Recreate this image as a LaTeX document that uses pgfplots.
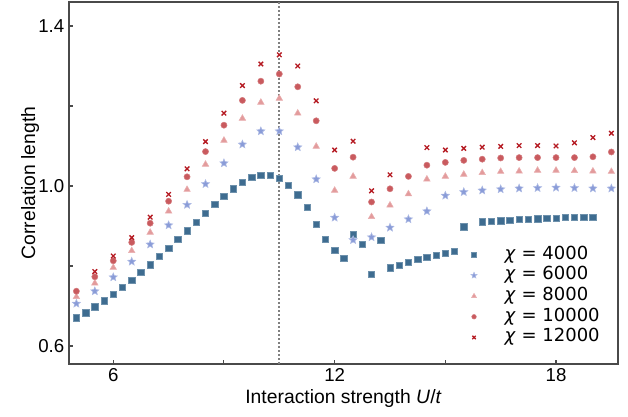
\documentclass[border=0pt]{standalone}
\usepackage{pgfplots}
\pgfplotsset{compat=1.18}
\usepackage{pgfplotstable}
\usepackage{fontspec}
\setmainfont{Liberation Sans}
\newfontfamily\djv{DejaVu Sans}

\definecolor{cA}{HTML}{3E6C90}
\definecolor{cB}{HTML}{8A9CD8}
\definecolor{cC}{HTML}{E39B9C}
\definecolor{cD}{HTML}{C95A5E}
\definecolor{cE}{HTML}{B51A22}
\definecolor{spine}{HTML}{4A4A4A}

% filled five-point star
\pgfdeclareplotmark{fstar}{%
  \pgfpathmoveto{\pgfpointpolar{90}{\pgfplotmarksize}}%
  \pgfpathlineto{\pgfpointpolar{126}{0.45\pgfplotmarksize}}%
  \pgfpathlineto{\pgfpointpolar{162}{\pgfplotmarksize}}%
  \pgfpathlineto{\pgfpointpolar{198}{0.45\pgfplotmarksize}}%
  \pgfpathlineto{\pgfpointpolar{234}{\pgfplotmarksize}}%
  \pgfpathlineto{\pgfpointpolar{270}{0.45\pgfplotmarksize}}%
  \pgfpathlineto{\pgfpointpolar{306}{\pgfplotmarksize}}%
  \pgfpathlineto{\pgfpointpolar{342}{0.45\pgfplotmarksize}}%
  \pgfpathlineto{\pgfpointpolar{18}{\pgfplotmarksize}}%
  \pgfpathlineto{\pgfpointpolar{54}{0.45\pgfplotmarksize}}%
  \pgfpathclose
  \pgfusepathqfillstroke
}

\pgfplotstableread{
U xi
5.00 0.671
5.25 0.683
5.50 0.698
5.75 0.713
6.00 0.730
6.25 0.747
6.50 0.765
6.75 0.784
7.00 0.803
7.25 0.824
7.50 0.845
7.75 0.867
8.00 0.888
8.25 0.910
8.50 0.932
8.75 0.954
9.00 0.975
9.25 0.993
9.50 1.009
9.75 1.022
10.00 1.027
10.25 1.027
10.50 1.020
10.75 1.002
11.00 0.978
11.25 0.947
11.50 0.905
11.75 0.867
12.00 0.840
12.25 0.819
12.50 0.879
12.75 0.854
13.00 0.779
13.25 0.865
13.50 0.796
13.75 0.8025
14.00 0.810
14.25 0.817
14.50 0.8225
14.75 0.8275
15.00 0.8325
15.25 0.8375
15.50 0.898
16.00 0.911
16.25 0.9125
16.50 0.913
16.75 0.915
17.00 0.917
17.25 0.9175
17.50 0.918
17.75 0.919
18.00 0.920
18.25 0.922
18.50 0.922
18.75 0.922
19.00 0.922
}\chiA

\pgfplotstableread{
U xi
5.0 0.706
5.5 0.737
6.0 0.772
6.5 0.811
7.0 0.854
7.5 0.902
8.0 0.953
8.5 1.005
9.0 1.057
9.5 1.104
10.0 1.137
10.5 1.137
11.0 1.097
11.5 1.017
12.0 0.921
12.5 0.865
13.0 0.872
13.5 0.896
14.0 0.917
14.5 0.937
15.0 0.976
15.5 0.985
16.0 0.989
16.5 0.992
17.0 0.994
17.5 0.995
18.0 0.996
18.5 0.995
19.0 0.994
19.5 0.994
}\chiB

\pgfplotstableread{
U xi
5.0 0.723
5.5 0.757
6.0 0.796
6.5 0.838
7.0 0.884
7.5 0.937
8.0 0.991
8.5 1.054
9.0 1.114
9.5 1.169
10.0 1.209
10.5 1.219
11.0 1.182
11.5 1.099
12.0 0.989
12.5 1.024
13.0 0.923
13.5 0.952
14.0 0.980
14.5 1.017
15.0 1.024
15.5 1.029
16.0 1.033
16.5 1.036
17.0 1.037
17.5 1.039
18.0 1.039
18.5 1.038
19.0 1.037
19.5 1.036
}\chiC

\pgfplotstableread{
U xi
5.0 0.737
5.5 0.773
6.0 0.813
6.5 0.859
7.0 0.907
7.5 0.962
8.0 1.023
8.5 1.086
9.0 1.152
9.5 1.214
10.0 1.262
10.5 1.280
11.0 1.248
11.5 1.163
12.0 1.044
12.5 1.072
13.0 0.960
13.5 0.993
14.0 1.024
14.5 1.052
15.0 1.059
15.5 1.064
16.0 1.067
16.5 1.070
17.0 1.071
17.5 1.071
18.0 1.071
18.5 1.071
19.0 1.073
19.5 1.085
}\chiD

\pgfplotstableread{
U xi
5.5 0.786
6.0 0.825
6.5 0.871
7.0 0.922
7.5 0.979
8.0 1.043
8.5 1.111
9.0 1.182
9.5 1.251
10.0 1.305
10.5 1.328
11.0 1.300
11.5 1.213
12.0 1.090
12.5 1.112
13.0 0.988
13.5 1.028
14.5 1.096
15.0 1.090
15.5 1.094
16.0 1.097
16.5 1.099
17.0 1.101
17.5 1.101
18.0 1.100
18.5 1.108
19.0 1.121
19.5 1.132
}\chiE

\begin{document}
\begin{tikzpicture}
\begin{axis}[
  scale only axis,
  width=411.75pt, height=271.5pt,
  xmin=4.8, xmax=19.68, ymin=0.555, ymax=1.46,
  xtick={6,12,18}, minor xtick={9,15},
  ytick={0.6,1.0,1.4}, minor ytick={0.8,1.2},
  tick pos=left, tick align=inside,
  major tick length=3pt, minor tick length=3pt,
  axis line style={spine, line width=0.9pt},
  tick style={spine, line width=0.8pt},
  /pgf/number format/assume math mode=true,
  yticklabel style={/pgf/number format/fixed, /pgf/number format/fixed zerofill, /pgf/number format/precision=1},
  tick label style={font=\fontsize{14}{16}\selectfont},
  label style={font=\fontsize{14.5}{17}\selectfont},
  xlabel={Interaction strength \textit{U}/\textit{t}},
  ylabel={Correlation length},
  xlabel style={at={(axis description cs:0.5,-0.094)}, anchor=center},
  ylabel style={at={(axis description cs:-0.071,0.5)}, anchor=center},
  legend style={at={(0.730,0.331)}, anchor=north west, draw=none, fill=none,
    inner sep=0pt, row sep=0pt,
    nodes={inner sep=1pt, text height=10pt, text depth=3.5pt},
    font=\djv\fontsize{13.5}{15}\selectfont},
  legend cell align=left,
  legend image code/.code={\path[draw=none,fill=none] (-3pt,0pt) (22pt,0pt);
    \draw[#1, every mark/.append style={scale=0.75}] plot coordinates {(0pt,0pt)};},
]
\addplot[forget plot, color=black!50, line width=1.4pt, dash pattern=on 1.3pt off 1.7pt] coordinates {(10.5,0.555) (10.5,1.46)};
\addplot[only marks, mark=square*, mark size=2.4pt, mark options={fill=cA, draw=cA!75!white, line width=0.4pt}] table[x=U,y=xi] {\chiA};
\addlegendentry{\textit{χ} = 4000}
\addplot[only marks, mark=fstar, mark size=3.2pt, mark options={fill=cB, draw=cB!70!white, line width=0.4pt}] table[x=U,y=xi] {\chiB};
\addlegendentry{\textit{χ} = 6000}
\addplot[only marks, mark=triangle*, mark size=2.8pt, mark options={fill=cC, draw=cC!80!white, line width=0.4pt}] table[x=U,y=xi] {\chiC};
\addlegendentry{\textit{χ} = 8000}
\addplot[only marks, mark=*, mark size=2.3pt, mark options={fill=cD, draw=cD!80!white, line width=0.4pt}] table[x=U,y=xi] {\chiD};
\addlegendentry{\textit{χ} = 10000}
\addplot[only marks, mark=x, mark size=2.4pt, mark options={draw=cE, line width=1pt}] table[x=U,y=xi] {\chiE};
\addlegendentry{\textit{χ} = 12000}
\end{axis}
\pgfresetboundingbox
\path[use as bounding box] ([xshift=-51.75pt,yshift=-39.75pt]current axis.south west) rectangle ++(471pt,312.75pt);
\end{tikzpicture}
\end{document}
